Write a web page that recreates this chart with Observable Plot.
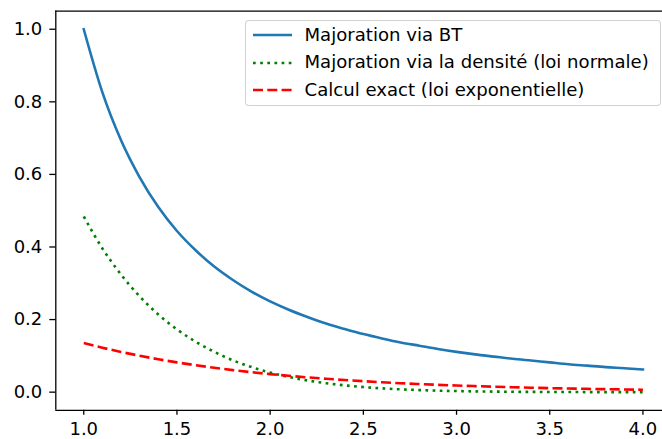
<!DOCTYPE html>
<html>
<head>
<meta charset="utf-8">
<script src="https://cdn.jsdelivr.net/npm/d3@7"></script>
<script src="https://cdn.jsdelivr.net/npm/@observablehq/plot@0.6"></script>
<style>
  html, body { margin: 0; padding: 0; background: white; }
  #wrap { position: relative; width: 662px; height: 439px; overflow: hidden; font-family: "DejaVu Sans", sans-serif; }
  #legend { position: absolute; left: 244.5px; top: 19.5px; width: 416px; height: 86px;
            border: 1.2px solid rgba(204,204,204,0.9); border-radius: 4px; background: rgba(255,255,255,0.8); box-sizing: border-box; }
  .row { position: absolute; left: 0; height: 0; }
  .row svg { position: absolute; left: 6px; top: -5px; }
  .row span { position: absolute; left: 59px; top: -11.5px; font-size: 18.1px; line-height: 22px; white-space: nowrap; color: #000; }
</style>
</head>
<body>
<div id="wrap"><div id="chart"></div><div id="legend"></div></div>
<script>
const xs = [1.0,1.1,1.2,1.3,1.4,1.5,1.6,1.7,1.8,1.9,2.0,2.1,2.2,2.3,2.4,2.5,2.6,2.7,2.8,2.9,3.0,3.1,3.2,3.3,3.4,3.5,3.6,3.7,3.8,3.9,4.0];
const bt = [1.000,0.826,0.694,0.592,0.510,0.444,0.391,0.346,0.309,0.277,0.250,0.227,0.207,0.189,0.174,0.160,0.148,0.137,0.128,0.119,0.111,0.104,0.098,0.092,0.087,0.082,0.077,0.073,0.069,0.066,0.0625];
const densite = [0.484,0.396,0.324,0.264,0.214,0.173,0.139,0.111,0.0877,0.0691,0.0540,0.0419,0.0323,0.0246,0.0187,0.0140,0.0104,0.0077,0.0057,0.0041,0.0030,0.0021,0.0015,0.0010,0.0007,0.0005,0.0003,0.0002,0.0001,0.0001,0.0001];
const exact = [0.1353,0.1225,0.1108,0.1003,0.0907,0.0821,0.0743,0.0672,0.0608,0.0550,0.0498,0.0450,0.0408,0.0369,0.0334,0.0302,0.0273,0.0247,0.0224,0.0202,0.0183,0.0166,0.0150,0.0136,0.0123,0.0111,0.0101,0.0091,0.0082,0.0074,0.0067];
const labels = ["Majoration via BT", "Majoration via la densité (loi normale)", "Calcul exact (loi exponentielle)"];
const xTicks = [1.0,1.5,2.0,2.5,3.0,3.5,4.0];
const yTicks = [0.0,0.2,0.4,0.6,0.8,1.0];

const styles = [
  {stroke: "#1f77b4", dash: null, cap: "square"},
  {stroke: "#008000", dash: "2.7,4.45", cap: "butt"},
  {stroke: "#ff0000", dash: "10,4.3", cap: "butt"}
];
const seriesVals = [bt, densite, exact];
const tables = seriesVals.map(v => xs.map((x, i) => ({x, y: v[i]})));

const fmt = d3.format(".1f");
const chart = Plot.plot({
  width: 662,
  height: 439,
  marginLeft: 55.3,
  marginRight: 0,
  marginTop: 10.6,
  marginBottom: 29.2,
  style: {fontFamily: "DejaVu Sans, sans-serif", fontSize: "18px", color: "#000", background: "white", overflow: "hidden"},
  x: {domain: [0.85, 4.105]},
  y: {domain: [-0.05, 1.05]},
  marks: [
    ...tables.map((t, k) => Plot.line(t, {x: "x", y: "y", stroke: styles[k].stroke, strokeWidth: 2.6,
      strokeDasharray: styles[k].dash, strokeLinecap: styles[k].cap, curve: "monotone-x"})),
    Plot.ruleX([0.85], {stroke: "#000", strokeWidth: 1.3}),
    Plot.ruleY([-0.05], {stroke: "#000", strokeWidth: 1.3}),
    Plot.ruleY([1.05], {stroke: "#000", strokeWidth: 1.3}),
    Plot.axisX({ticks: xTicks, tickFormat: fmt, tickSize: 5, tickPadding: 7, fontSize: 18, stroke: "#000", strokeWidth: 1.3, label: null}),
    Plot.axisY({ticks: yTicks, tickFormat: fmt, tickSize: 6, tickPadding: 7.5, fontSize: 18, stroke: "#000", strokeWidth: 1.3, label: null})
  ]
});
document.getElementById("chart").appendChild(chart);

const legend = document.getElementById("legend");
const rowY = [14.5, 42.3, 69.8];
labels.forEach((lab, k) => {
  const row = document.createElement("div");
  row.className = "row";
  row.style.top = rowY[k] + "px";
  const s = styles[k];
  row.innerHTML = `<svg width="40" height="10"><line x1="1" y1="5" x2="40" y2="5" stroke="${s.stroke}" stroke-width="2.6" ${s.dash ? `stroke-dasharray="${s.dash}"` : ""} stroke-linecap="butt"/></svg><span>${lab}</span>`;
  legend.appendChild(row);
});
</script>
</body>
</html>
